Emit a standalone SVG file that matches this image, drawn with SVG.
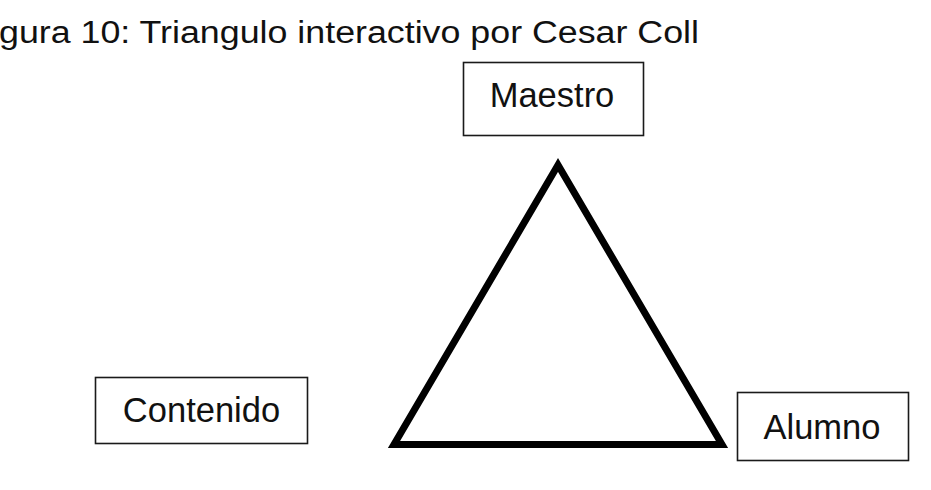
<svg xmlns="http://www.w3.org/2000/svg" width="931" height="490" viewBox="0 0 931 490">
<style>
.box{fill:#fff;stroke:#1a1a1a;stroke-width:1.6}
.lbl{font-family:"Liberation Sans",Arial,sans-serif;font-size:34.5px;fill:#111;text-anchor:middle}
.title{font-family:"Liberation Sans",Arial,sans-serif;font-size:31px;fill:#111}
</style>
<rect width="931" height="490" fill="#fff"/>
<text class="title" x="-1" y="43" textLength="700" lengthAdjust="spacingAndGlyphs">gura 10: Triangulo interactivo por Cesar Coll</text>
<g id="connectors">
<polygon points="558,165 394,444.5 722,444.5" fill="none" stroke="#000" stroke-width="7" stroke-linejoin="miter"/>
</g>
<g id="maestro">
<rect class="box" x="463.5" y="62.5" width="180" height="73"/>
<text class="lbl" x="552" y="107">Maestro</text>
</g>
<g id="contenido">
<rect class="box" x="95.5" y="377.5" width="212" height="66"/>
<text class="lbl" x="201.5" y="422">Contenido</text>
</g>
<g id="alumno">
<rect class="box" x="737.5" y="392.5" width="171" height="68"/>
<text class="lbl" x="822" y="439">Alumno</text>
</g>
</svg>
